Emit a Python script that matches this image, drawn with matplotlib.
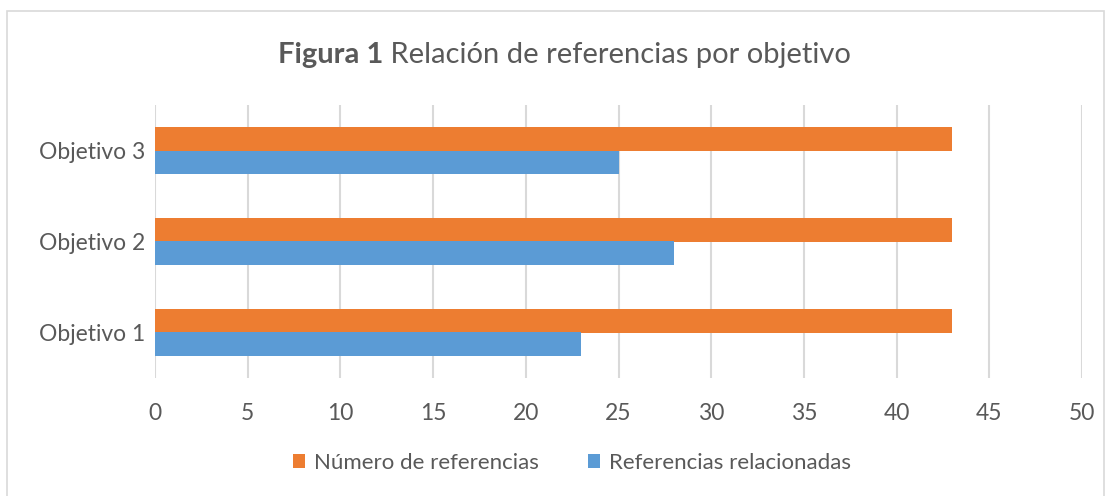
import matplotlib.pyplot as plt
import numpy as np
from matplotlib.patches import Rectangle

categories = ['Objetivo 1', 'Objetivo 2', 'Objetivo 3']
numero_refs = [43, 43, 43]
refs_relacionadas = [23, 28, 25]
xticks = [0, 5, 10, 15, 20, 25, 30, 35, 40, 45, 50]

orange = '#ED7D31'
blue = '#5B9BD5'
gray = '#595959'

plt.rcParams['font.family'] = ['Lato', 'DejaVu Sans']

fig = plt.figure(figsize=(11.11, 4.96), dpi=100)
ax = fig.add_axes([155/1111, 1 - 378/496, (1082 - 155)/1111, (378 - 105)/496])

# outer border like the excel chart area (bottom edge cut off)
fig.patches.append(Rectangle((7/1111, -0.05), (1104 - 7)/1111, 1 - 11/496 + 0.05,
                             transform=fig.transFigure, fill=False,
                             edgecolor='#d9d9d9', linewidth=1.2))

y = np.arange(len(categories))
h = 0.26
ax.barh(y + h/2, numero_refs, height=h, color=orange, label='Número de referencias', zorder=3)
ax.barh(y - h/2, refs_relacionadas, height=h, color=blue, label='Referencias relacionadas', zorder=3)

ax.set_xlim(0, 50)
ax.set_ylim(-0.5, 2.5)
ax.set_xticks(xticks)
ax.set_yticks(y)
ax.set_yticklabels(categories)
ax.grid(axis='x', color='#d9d9d9', linewidth=1.5, zorder=0)
for s in ax.spines.values():
    s.set_visible(False)
ax.tick_params(axis='both', length=0, labelsize=16.5, labelcolor=gray)
ax.tick_params(axis='x', pad=18)
ax.tick_params(axis='y', pad=7)

# title: bold part + regular part
t1 = fig.text(278/1111, 1 - 55/496, 'Figura 1', fontsize=21, fontweight='bold',
              color=gray, va='center', ha='left')
ax.annotate(' Relación de referencias por objetivo', xy=(1, 0.5), xycoords=t1,
            fontsize=21, color=gray, va='center', ha='left', annotation_clip=False)

fig.legend(loc='center', bbox_to_anchor=(0.515, 1 - 463/496), ncol=2, frameon=False,
           fontsize=16, labelcolor=gray, handlelength=0.55, handleheight=0.55,
           handletextpad=0.4, columnspacing=2.2)

fig.savefig('out.png', dpi=100)
